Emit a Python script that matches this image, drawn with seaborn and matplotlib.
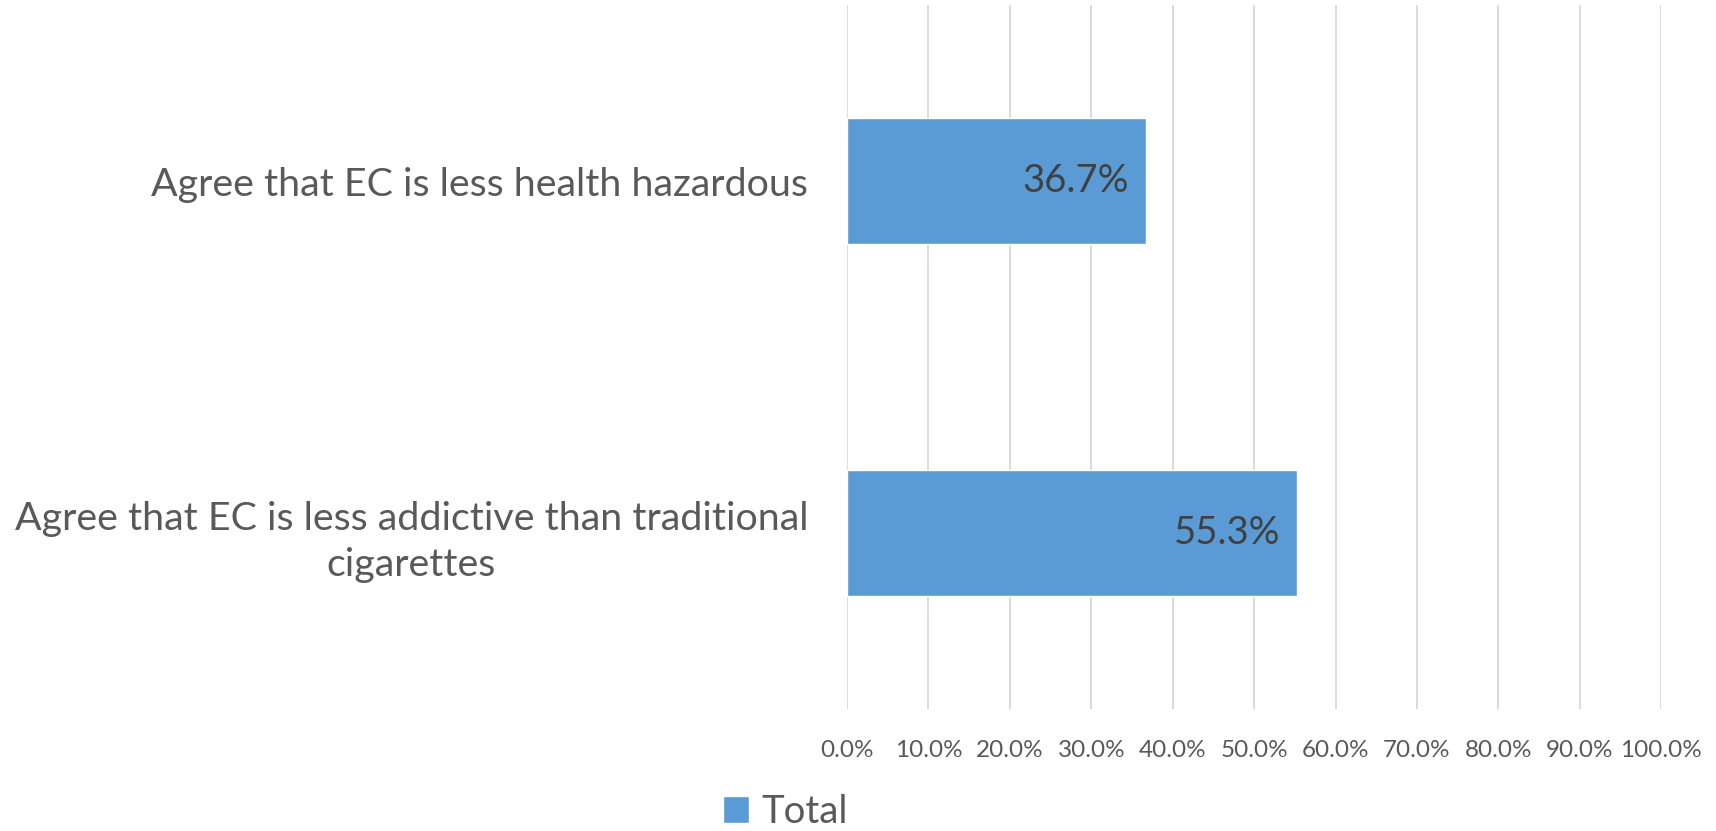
import matplotlib
matplotlib.use("Agg")
import matplotlib.pyplot as plt
import seaborn as sns
import pandas as pd
from matplotlib.ticker import FuncFormatter
from matplotlib.patches import Patch

categories = ["Agree that EC is less health hazardous",
              "Agree that EC is less addictive than traditional\ncigarettes"]
values = [36.7, 55.3]
series_name = "Total"
xticks = [0, 10, 20, 30, 40, 50, 60, 70, 80, 90, 100]

sns.set_style("white")
plt.rcParams['font.family'] = ['Lato', 'DejaVu Sans']

df = pd.DataFrame({"category": categories, "value": values})

fig = plt.figure(figsize=(17.16, 8.31), dpi=100)
ax = fig.add_axes([0.4936, 0.1468, 0.4745, 0.847])

bar_color = "#5B9BD5"
sns.barplot(data=df, y="category", x="value", orient="h", color=bar_color,
            width=0.36, ax=ax, saturation=1)

ax.set_xlim(0, 100)
ax.set_ylim(1.5, -0.5)
ax.set_xticks(xticks)
ax.xaxis.set_major_formatter(FuncFormatter(lambda v, p: f"{v:.1f}%"))
ax.grid(axis="x", color="#D9D9D9", linewidth=1.3)
ax.set_axisbelow(True)
for s in ax.spines.values():
    s.set_visible(False)
ax.tick_params(axis="x", length=0, labelsize=17.5, colors="#595959", pad=22)
ax.tick_params(axis="y", length=0, labelsize=28.4, colors="#595959", pad=28)
for lbl in ax.get_yticklabels():
    lbl.set_multialignment("center")
    lbl.set_linespacing(1.35)
ax.set_xlabel("")
ax.set_ylabel("")

for cont in ax.containers:
    for rect, v in zip(cont.patches, cont.datavalues):
        ax.annotate(f"{v:.1f}%", xy=(rect.get_width(), rect.get_y() + rect.get_height() / 2),
                    xytext=(-12, 0), textcoords="offset points",
                    ha="right", va="center", fontsize=27.6, color="#404040")

handles = [Patch(facecolor=bar_color, label=series_name)]
fig.legend(handles=handles, loc="center", bbox_to_anchor=(0.4575, 0.023),
           frameon=False, fontsize=27.6, handlelength=0.7, handleheight=0.7,
           handletextpad=0.3, labelcolor="#595959")

fig.savefig("out.png", dpi=100)
